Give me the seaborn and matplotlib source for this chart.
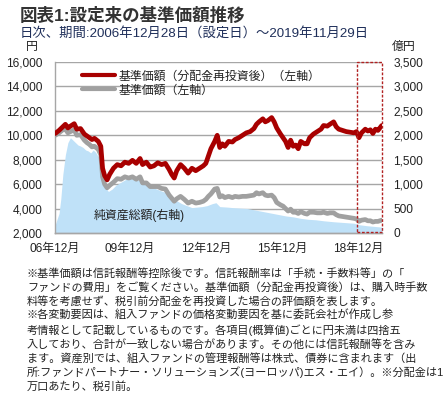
import matplotlib
matplotlib.use("Agg")
import matplotlib.pyplot as plt
import matplotlib.patches as mpatches
import matplotlib.transforms as mtrans
import seaborn as sns
import pandas as pd

# ---------------- data ----------------
years = [2007.0, 2007.15, 2007.3, 2007.4, 2007.5, 2007.6, 2007.75, 2007.85, 2008.0, 2008.15,
         2008.25, 2008.35, 2008.45, 2008.55, 2008.7, 2008.8, 2008.87, 2008.95, 2009.05, 2009.15,
         2009.3, 2009.45, 2009.6, 2009.75, 2009.9, 2010.05, 2010.2, 2010.35, 2010.45, 2010.6,
         2010.75, 2010.9, 2011.05, 2011.2, 2011.35, 2011.5, 2011.6, 2011.7, 2011.8, 2011.95,
         2012.1, 2012.25, 2012.4, 2012.55, 2012.7, 2012.85, 2012.95, 2013.05, 2013.15, 2013.3,
         2013.4, 2013.5, 2013.6, 2013.7, 2013.85, 2014.0, 2014.1, 2014.25, 2014.4, 2014.55,
         2014.7, 2014.85, 2014.95, 2015.05, 2015.2, 2015.3, 2015.4, 2015.55, 2015.65, 2015.75,
         2015.9, 2016.0, 2016.1, 2016.2, 2016.3, 2016.4, 2016.5, 2016.6, 2016.7, 2016.85,
         2016.95, 2017.05, 2017.2, 2017.35, 2017.5, 2017.6, 2017.75, 2017.85, 2018.0, 2018.1,
         2018.2, 2018.35, 2018.5, 2018.65, 2018.8, 2018.9, 2019.0, 2019.1, 2019.25, 2019.35,
         2019.45, 2019.55, 2019.65, 2019.75, 2019.9]

nav_reinvested = [10150, 10400, 10700, 10900, 10600, 10750, 10950, 10500, 10550, 10100,
                  9950, 9800, 9650, 9750, 9500, 9100, 7300, 6700, 6350, 6800,
                  7300, 7600, 7500, 7800, 7700, 7950, 7700, 8100, 7600, 7800,
                  7400, 7500, 7750, 7600, 7700, 7200, 6800, 6500, 7100, 7600,
                  7300, 6900, 7300, 7100, 7300, 7500, 7700, 8300, 8900, 9500,
                  10000, 9000, 9300, 9100, 9500, 9450, 9650, 9800, 10000, 10200,
                  10300, 10550, 10900, 11100, 11350, 11100, 11200, 11450, 11100, 10600,
                  10100, 9800, 9500, 9000, 9600, 9100, 9200, 8900, 9500, 9300,
                  9300, 9800, 10100, 10300, 10500, 10800, 10750, 10900, 11100, 10700,
                  10500, 10400, 10300, 10250, 10200, 10300, 9800, 10200, 10500, 10350,
                  10450, 10150, 10500, 10400, 10800]

nav = [10000, 10200, 10450, 10500, 10200, 10300, 10450, 10000, 10050, 9600,
       9400, 9250, 9050, 9100, 8850, 8400, 6600, 6000, 5700, 5900,
       6150, 6450, 6400, 6600, 6500, 6600, 6400, 6600, 6100, 6100,
       5800, 5800, 5800, 5650, 5600, 5100, 4850, 4600, 4800, 5000,
       4750, 4450, 4600, 4450, 4500, 4600, 4750, 5000, 5200, 5600,
       5650, 4950, 5050, 4900, 5000, 4900, 5000, 4950, 5000, 5000,
       5050, 5100, 5300, 5200, 5300, 5100, 5050, 5100, 4900, 4500,
       4300, 4200, 4000, 3800, 3950, 3700, 3700, 3600, 3750, 3600,
       3550, 3700, 3700, 3650, 3650, 3700, 3600, 3650, 3650, 3500,
       3400, 3350, 3300, 3250, 3200, 3150, 2950, 3050, 3100, 3000,
       3000, 2900, 2950, 2950, 3050]

asset_years = [2006.99, 2007.05, 2007.15, 2007.22, 2007.3, 2007.4, 2007.5, 2007.6, 2007.7, 2007.8,
               2007.9, 2008.0, 2008.1, 2008.2, 2008.3, 2008.4, 2008.5, 2008.6, 2008.7, 2008.8,
               2008.87, 2008.95, 2009.1, 2009.25, 2009.4, 2009.6, 2009.8, 2010.0, 2010.2, 2010.4,
               2010.6, 2010.8, 2011.0, 2011.2, 2011.4, 2011.6, 2011.8, 2012.0, 2012.2, 2012.4,
               2012.6, 2012.8, 2013.0, 2013.2, 2013.35, 2013.5, 2013.8, 2014.0, 2014.3, 2014.6,
               2014.9, 2015.2, 2015.5, 2015.8, 2016.1, 2016.4, 2016.7, 2017.0, 2017.3, 2017.6,
               2018.0, 2018.4, 2018.8, 2019.0, 2019.3, 2019.6, 2019.91]
net_assets = [150, 250, 400, 700, 1200, 1600, 1850, 1950, 1900, 1850,
              1800, 1780, 1750, 1700, 1680, 1640, 1700, 1650, 1560, 1520,
              1100, 950, 850, 900, 980, 1040, 1100, 1120, 1080, 1090,
              1000, 960, 900, 860, 820, 700, 660, 600, 560, 520,
              530, 540, 560, 600, 620, 540, 530, 520, 510, 500,
              470, 440, 410, 380, 350, 330, 300, 280, 270, 250,
              230, 215, 200, 170, 150, 135, 120]

xtick_pos = [2006.99, 2009.95, 2012.96, 2015.96, 2018.96]
xtick_labels = ["06年12月", "09年12月", "12年12月", "15年12月", "18年12月"]
left_ticks = [2000, 4000, 6000, 8000, 10000, 12000, 14000, 16000]
right_ticks = [0, 500, 1000, 1500, 2000, 2500, 3000, 3500]

label_reinv = "基準価額（分配金再投資後）（左軸）"
label_nav = "基準価額（左軸）"
label_assets = "純資産総額(右軸)"
title = "図表1:設定来の基準価額推移"
subtitle = "日次、期間:2006年12月28日（設定日）～2019年11月29日"
notes = [
    "※基準価額は信託報酬等控除後です。信託報酬率は「手続・手数料等」の「",
    "ファンドの費用」をご覧ください。基準価額（分配金再投資後）は、購入時手数",
    "料等を考慮せず、税引前分配金を再投資した場合の評価額を表します。",
    "※各変動要因は、組入ファンドの価格変動要因を基に委託会社が作成し参",
    "考情報として記載しているものです。各項目(概算値)ごとに円未満は四捨五",
    "入しており、合計が一致しない場合があります。その他には信託報酬等を含み",
    "ます。資産別では、組入ファンドの管理報酬等は株式、債券に含まれます（出",
    "所:ファンドパートナー・ソリューションズ(ヨーロッパ)エス・エイ）。※分配金は1",
    "万口あたり、税引前。",
]

# ---------------- style ----------------
sns.set_style("white")
FONTS = ["Liberation Sans", "Noto Sans CJK JP", "DejaVu Sans"]
plt.rcParams["font.family"] = FONTS
plt.rcParams["axes.unicode_minus"] = False

RED = "#A80000"
GRAY = "#A0A0A0"
BLUE = "#BFE1F8"
GRID = "#A6A6A6"
TXT = "#222222"

W, H = 443, 397
fig = plt.figure(figsize=(W / 100, H / 100), dpi=100)
L, R, B, T = 55, 382, 233, 62
ax1 = fig.add_axes([L / W, 1 - B / H, (R - L) / W, (B - T) / H])
ax2 = ax1.twinx()
ax1.set_zorder(2)
ax2.set_zorder(1)
ax1.patch.set_visible(False)

df = pd.DataFrame({"year": years, "reinv": nav_reinvested, "nav": nav})
da = pd.DataFrame({"year": asset_years, "assets": net_assets})

# area on right axis
ax2.fill_between(da["year"], 0, da["assets"], color=BLUE, linewidth=0, zorder=2)
ax2.set_ylim(0, 3500)
ax2.set_yticks(right_ticks)
ax2.set_yticklabels([f"{v:,}" for v in right_ticks])
ax2.grid(axis="y", color=GRID, linewidth=1.0)
ax2.set_axisbelow(True)

# lines on left axis
sns.lineplot(data=df, x="year", y="reinv", ax=ax1, color=RED, linewidth=3.4,
             label=label_reinv, zorder=4)
sns.lineplot(data=df, x="year", y="nav", ax=ax1, color=GRAY, linewidth=3.4,
             label=label_nav, zorder=3)
ax1.set_ylim(2000, 16000)
ax1.set_yticks(left_ticks)
ax1.set_yticklabels([f"{v:,}" for v in left_ticks])
ax1.set_xlim(2006.99, 2019.91)
ax1.set_xticks(xtick_pos)
ax1.set_xticklabels(xtick_labels)
ax1.set_xlabel("")
ax1.set_ylabel("")
ax2.set_ylabel("")

ax1.tick_params(axis="y", length=0, pad=9, labelsize=8.6, labelcolor=TXT)
ax2.tick_params(axis="y", length=0, pad=8, labelsize=8.6, labelcolor=TXT)
ax1.tick_params(axis="x", direction="in", length=4, width=0.8, color=GRID,
                pad=7, labelsize=8.6, labelcolor=TXT)
ax2.tick_params(axis="x", length=0)

for a in (ax1, ax2):
    for s in ("top", "right"):
        a.spines[s].set_visible(False)
    a.spines["left"].set_color(GRID)
    a.spines["bottom"].set_color(GRID)
    a.spines["left"].set_linewidth(1.0)
    a.spines["bottom"].set_linewidth(1.0)
ax2.spines["left"].set_visible(False)

# dashed highlight rectangle (last year)
trans = mtrans.blended_transform_factory(ax1.transData, ax1.transAxes)
rect = mpatches.Rectangle((2018.91, 0.005), 2019.9 - 2018.91, 0.995, transform=trans,
                          fill=False, edgecolor="#B22222", linestyle=(0, (2, 1.2)),
                          linewidth=1.0, zorder=6, clip_on=False)
ax1.add_patch(rect)

# legend
leg = ax1.legend(loc="center left", bbox_to_anchor=(82 / W, 1 - 83.5 / H),
                 bbox_transform=fig.transFigure, frameon=False, fontsize=8.6,
                 handlelength=2.75, handletextpad=0.35, labelspacing=0.15,
                 borderpad=0, borderaxespad=0)
for t in leg.get_texts():
    t.set_color(TXT)
for h in leg.get_lines():
    h.set_linewidth(3.0)

# area label
fig.text(139 / W, 1 - 215 / H, label_assets, ha="center", va="center",
         fontsize=8.6, color=TXT, zorder=10)

# titles / units
fig.text(20 / W, 1 - 15 / H, title, ha="left", va="center", fontsize=12.6,
         fontweight="bold", color="#333333")
fig.text(20 / W, 1 - 33 / H, subtitle, ha="left", va="center", fontsize=9.6,
         color="#1F2F5A")
fig.text(32 / W, 1 - 47 / H, "円", ha="center", va="center", fontsize=8.6, color=TXT)
fig.text(404 / W, 1 - 47 / H, "億円", ha="center", va="center", fontsize=8.6, color=TXT)

# notes
y0 = 273
for i, line in enumerate(notes):
    fig.text(27 / W, 1 - (y0 + i * 14.2) / H, line, ha="left", va="center",
             fontsize=8.0, color=TXT)

fig.savefig("out.png", dpi=100)
